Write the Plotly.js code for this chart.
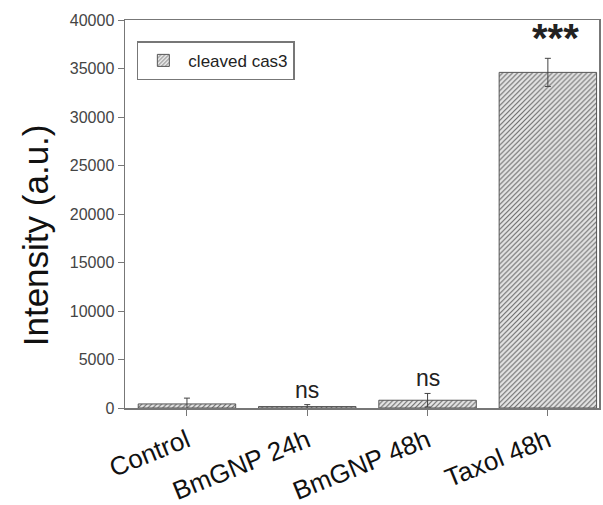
<!DOCTYPE html>
<html><head><meta charset="utf-8">
<script src="https://cdn.plot.ly/plotly-3.0.1.min.js"></script>
<style>html,body{margin:0;padding:0;background:#fff;}</style>
</head><body><div id="chart" style="width:603px;height:505px;"></div>
<script>
var categories = ["Control", "BmGNP 24h", "BmGNP 48h", "Taxol 48h"];
var values = [420, 150, 800, 34600];
var errors = [600, 200, 700, 1450];
var signif = ["", "ns", "ns", "***"];
var seriesName = "cleaved cas3";
var yTitle = "Intensity (a.u.)";

var trace = {
  type: "bar", x: categories, y: values, name: seriesName, width: 0.81,
  marker: {color: "#d8d8d8", line: {color: "#555", width: 1},
           pattern: {shape: "/", fgcolor: "#6a6a6a", bgcolor: "#e6e6e6", size: 3.5, solidity: 0.33}},
  error_y: {type: "data", array: errors, visible: true, color: "#444", thickness: 1, width: 3},
  showlegend: true
};
var annotations = categories.map(function(c, i){
  var star = signif[i] === "***";
  return {x: c, y: values[i] + errors[i], text: star ? "<b>***</b>" : signif[i], showarrow: false,
          yanchor: "bottom", yshift: star ? -4 : 0, xshift: star ? 8 : 0,
          font: {family: "Arial, Liberation Sans", size: star ? 40 : 23, color: "#222"}};
});
annotations.push({xref: "paper", yref: "paper", x: -0.19, y: 0.445, xanchor: "center", yanchor: "middle",
  text: yTitle, textangle: -90, showarrow: false, font: {size: 35, color: "#111"}});
var layout = {
  width: 603, height: 505,
  margin: {l: 125, r: 4, t: 20, b: 97},
  paper_bgcolor: "#fff", plot_bgcolor: "#fff",
  font: {family: "Arial, Liberation Sans, sans-serif", color: "#333"},
  xaxis: {range: [-0.515, 3.425], showline: true, mirror: true, linecolor: "#777", linewidth: 1.5,
          ticks: "outside", ticklen: 6, tickcolor: "#777", tickangle: -22,
          tickfont: {size: 26, color: "#111"}, showgrid: false, zeroline: false},
  yaxis: {range: [0, 40000], dtick: 5000, tickformat: "d", showline: true, mirror: true, linecolor: "#777", linewidth: 1.5,
          ticks: "outside", ticklen: 6, tickcolor: "#777", tickfont: {size: 16, color: "#444"},
          showgrid: false, zeroline: false},
  legend: {x: 0.025, y: 0.945, xanchor: "left", yanchor: "top", bgcolor: "#fff", bordercolor: "#777", borderwidth: 1.5,
           itemwidth: 40, font: {size: 17, color: "#222"}},
  annotations: annotations,
  showlegend: true
};
Plotly.newPlot("chart", [trace], layout, {displayModeBar: false, staticPlot: true});
</script></body></html>
